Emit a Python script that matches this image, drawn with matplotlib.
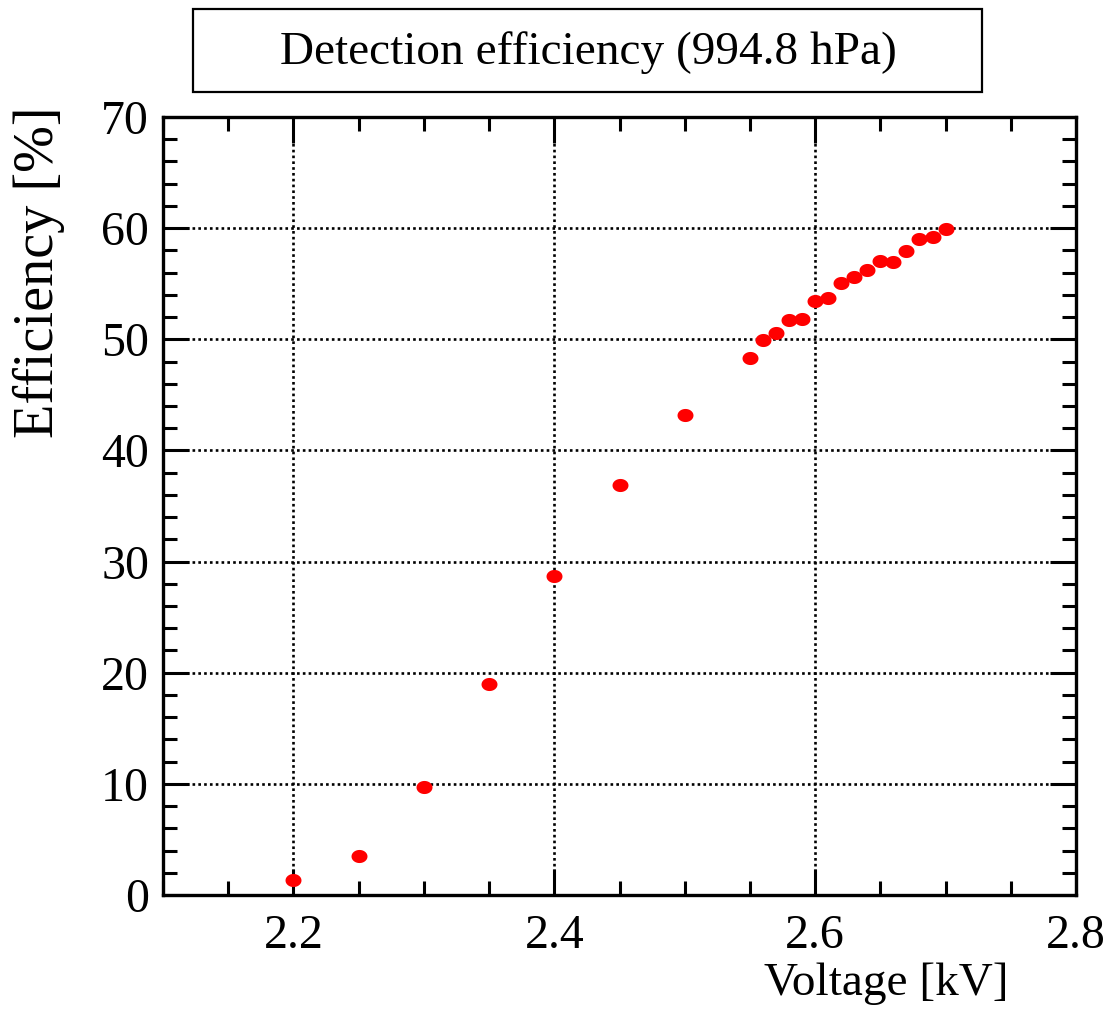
import numpy as np
import matplotlib.pyplot as plt
from matplotlib.path import Path
from matplotlib.ticker import MultipleLocator

# voltage scan at 994.8 hPa
voltage = [2.20, 2.25, 2.30, 2.35, 2.40, 2.45, 2.50,
           2.55, 2.56, 2.57, 2.58, 2.59, 2.60, 2.61, 2.62,
           2.63, 2.64, 2.65, 2.66, 2.67, 2.68, 2.69, 2.70]
efficiency = [1.35, 3.55, 9.7, 19.0, 28.7, 36.9, 43.2,
              48.3, 49.9, 50.6, 51.7, 51.85, 53.4, 53.7, 55.1,
              55.6, 56.25, 57.0, 56.95, 57.9, 59.05, 59.2, 59.9]

plt.rcParams['font.family'] = ['Liberation Serif', 'DejaVu Serif']

fig = plt.figure(figsize=(11.09, 10.13), dpi=100)
ax = fig.add_axes([163/1109, 1-895/1013, (1076-163)/1109, (895-117)/1013])

# slightly flattened dot, like the ROOT marker
t = np.linspace(0, 2*np.pi, 60)
dot = Path(np.column_stack([np.cos(t), 0.82*np.sin(t)]), closed=True)
ax.plot(voltage, efficiency, ls='none', marker=dot, ms=11.5,
        mfc='#ff0000', mec='#ff0000', mew=0, zorder=3)

ax.set_xlim(2.1, 2.8)
ax.set_ylim(0, 70)
ax.xaxis.set_major_locator(MultipleLocator(0.2))
ax.xaxis.set_minor_locator(MultipleLocator(0.05))
ax.yaxis.set_major_locator(MultipleLocator(10))
ax.yaxis.set_minor_locator(MultipleLocator(2))
ax.set_xticks([2.2, 2.4, 2.6, 2.8])
ax.set_xticklabels(['2.2', '2.4', '2.6', '2.8'])

ax.tick_params(which='both', direction='in', top=True, right=True,
               width=2.2, colors='black')
ax.tick_params(which='major', length=19, labelsize=34.5)
ax.tick_params(which='minor', length=10)
ax.tick_params(axis='x', which='major', pad=14)
ax.tick_params(axis='y', which='major', pad=10)
for s in ax.spines.values():
    s.set_linewidth(2.4)

ax.grid(True, which='major', ls=(0, (1, 1.2)), lw=1.9, color='black')

fig.text(1009/1109, 1-1005/1013, 'Voltage [kV]', ha='right', va='bottom',
         fontsize=34)
fig.text(39/1109, 1-106/1013, 'Efficiency [%]', rotation=90,
         ha='center', va='top', fontsize=40.5)

fig.text(588/1109, 1-53/1013, 'Detection efficiency (994.8 hPa)',
         ha='center', va='center', fontsize=34)
box = plt.Rectangle((193/1109, 1-92/1013), (982-193)/1109, (92-9)/1013,
                    transform=fig.transFigure, fill=False, lw=1.6,
                    ec='black')
fig.add_artist(box)

fig.savefig('out.png', dpi=100)
